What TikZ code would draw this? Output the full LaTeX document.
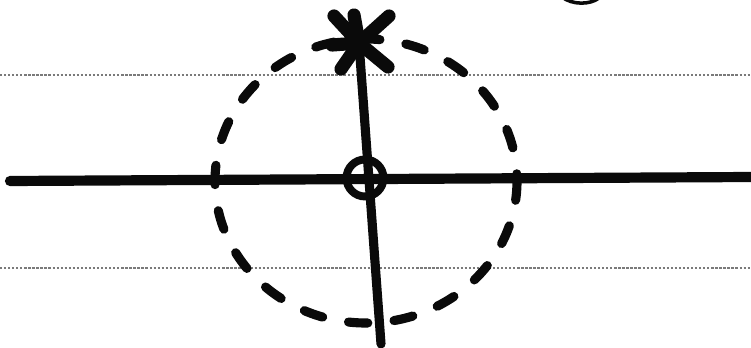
\documentclass[tikz,border=0pt]{standalone}
\usepackage{tikz}
\usetikzlibrary{positioning, calc}
\usepackage{xcolor}
\definecolor{ink}{HTML}{0A0A0A}
\definecolor{ruling}{HTML}{7A7A7A}
\tikzset{
    axisline/.style={
        draw=ink, line width=5.8pt, line cap=round
    },
    stemline/.style={
        draw=ink, line width=5.2pt, line cap=round
    },
    polearm/.style={
        draw=ink, line width=7.5pt, line cap=round
    },
    zeromark/.style={
        circle, draw=ink, line width=4.5pt, minimum size=0.74cm, inner sep=0pt
    },
    locus/.style={
        draw=ink, line width=5.2pt, line cap=round,
        dash pattern=on 11pt off 15pt
    },
    ruleline/.style={
        draw=ruling, line width=1.3pt, densely dotted
    }
}

\begin{document}
\begin{tikzpicture}[x=0.02cm, y=-0.02cm]

    \useasboundingbox[fill=white] (0,0) rectangle (751,348);

    % paper rulings
    \coordinate (ruleAL) at (0,75);
    \coordinate (ruleAR) at (751,75);
    \coordinate (ruleBL) at (0,268);
    \coordinate (ruleBR) at (751,268);
    \draw[ruleline] (ruleAL) -- (ruleAR);
    \draw[ruleline] (ruleBL) -- (ruleBR);

    % real axis
    \coordinate (axisL) at (10,181);
    \coordinate (axisR) at (751,177);
    \draw[axisline] (axisL) -- (axisR);

    % dashed circle
    \coordinate (centre) at (366,181);
    \draw[locus] (centre) ellipse [x radius=151, y radius=142];

    % pole and zero
    \coordinate (pole) at (359,43);
    \coordinate (stemEnd) at (381,344);
    \node[zeromark] (zero) at (365,178) {};
    \draw[stemline] (pole) -- (stemEnd);
    \foreach \dx/\dy in {-25/-27, -5/-28, 30/-27, -27/2, -18/26, 29/24}
        \draw[polearm] (pole) -- ++(\dx,\dy);

    % edge of a mark cut off at the top
    \draw[ink, line width=2pt] (562,-3) .. controls (572,5) and (590,5) .. (599,-2);

\end{tikzpicture}
\end{document}
